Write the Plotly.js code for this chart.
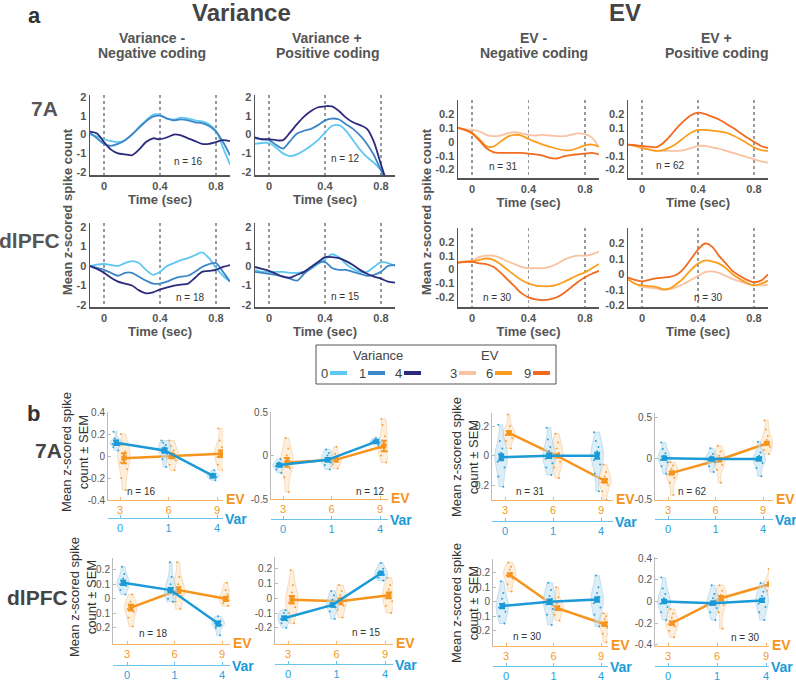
<!DOCTYPE html>
<html>
<head>
<meta charset="utf-8">
<script src="https://cdn.plot.ly/plotly-3.0.1.min.js"></script>
<style>body{margin:0;background:#fff;} #chart{width:796px;height:681px;}</style>
</head>
<body>
<div id="chart"></div>
<script>
// ---------- panel a: mean z-scored spike count over time ----------
var time = [-0.1,-0.05,0,0.05,0.1,0.15,0.2,0.25,0.3,0.35,0.4,0.45,0.5,0.55,0.6,0.65,0.7,0.75,0.8,0.85,0.9];
var timeTicks = [0, 0.4, 0.8];

// 7A, variance negative coding (variance 0 / 1 / 4)
var vNeg7A_0 = [0.0,-0.1,-0.25,-0.35,-0.4,-0.3,0.0,0.4,0.75,1.05,1.05,0.85,0.8,0.9,0.85,0.75,0.7,0.55,0.2,-0.7,-1.6];
var vNeg7A_1 = [0.1,-0.2,-0.5,-0.6,-0.5,-0.3,0.0,0.35,0.7,0.95,1.0,0.85,0.75,0.8,0.75,0.65,0.6,0.45,0.15,-0.4,-1.1];
var vNeg7A_4 = [0.15,0.05,-0.4,-0.8,-1.0,-1.05,-1.1,-0.8,-0.4,-0.2,-0.25,-0.15,0.0,-0.05,-0.2,-0.35,-0.5,-0.5,-0.4,-0.3,-0.35];
// 7A, variance positive coding
var vPos7A_0 = [-0.5,-0.45,-0.45,-0.7,-1.0,-1.15,-1.05,-0.85,-0.6,-0.3,0.1,0.45,0.5,0.2,-0.3,-0.8,-1.2,-1.5,-1.9,-2.4,-2.9];
var vPos7A_1 = [-0.2,-0.25,-0.3,-0.55,-0.75,-0.35,0.05,0.2,0.3,0.5,0.75,0.85,0.8,0.55,0.3,-0.05,-0.5,-1.1,-1.9,-2.6,-3.0];
var vPos7A_4 = [-0.15,-0.25,-0.25,-0.3,-0.3,0.1,0.55,0.95,1.25,1.45,1.5,1.5,1.25,0.9,0.65,0.5,0.3,-0.4,-1.6,-2.7,-3.5];
// 7A, EV negative coding (EV 3 / 6 / 9)
var eNeg7A_3 = [0.1,0.09,0.085,0.075,0.05,0.04,0.045,0.06,0.07,0.06,0.05,0.045,0.05,0.045,0.04,0.04,0.05,0.06,0.055,0.03,-0.04];
var eNeg7A_6 = [0.1,0.085,0.065,0.02,-0.03,-0.035,0.0,0.035,0.05,0.045,0.02,0.0,-0.02,-0.035,-0.05,-0.06,-0.06,-0.045,-0.025,-0.02,-0.035];
var eNeg7A_9 = [0.1,0.085,0.06,0.01,-0.045,-0.075,-0.08,-0.08,-0.08,-0.08,-0.085,-0.09,-0.1,-0.115,-0.12,-0.105,-0.095,-0.09,-0.085,-0.08,-0.09];
// 7A, EV positive coding
var ePos7A_3 = [-0.02,-0.03,-0.04,-0.055,-0.065,-0.065,-0.065,-0.065,-0.06,-0.045,-0.03,-0.03,-0.04,-0.05,-0.065,-0.08,-0.095,-0.11,-0.125,-0.14,-0.15];
var ePos7A_6 = [-0.02,-0.03,-0.045,-0.055,-0.065,-0.06,-0.04,-0.01,0.03,0.065,0.085,0.085,0.08,0.075,0.065,0.045,0.02,-0.01,-0.04,-0.06,-0.065];
var ePos7A_9 = [-0.02,-0.025,-0.03,-0.035,-0.04,-0.01,0.04,0.1,0.15,0.19,0.21,0.2,0.18,0.16,0.13,0.1,0.065,0.03,0.0,-0.03,-0.045];
// dlPFC, variance negative coding
var vNegPFC_0 = [0.0,0.07,0.1,0.05,0.0,0.15,0.25,0.15,-0.2,-0.45,-0.3,0.0,0.15,0.3,0.4,0.55,0.7,0.4,-0.1,-0.5,-0.8];
var vNegPFC_1 = [0.0,-0.1,-0.2,-0.35,-0.5,-0.35,-0.35,-0.55,-0.75,-0.9,-0.9,-0.8,-0.65,-0.55,-0.5,-0.3,-0.05,0.1,0.15,-0.3,-0.8];
var vNegPFC_4 = [0.0,-0.15,-0.35,-0.6,-0.8,-0.9,-1.0,-1.25,-1.4,-1.35,-1.2,-1.1,-1.0,-0.95,-0.9,-0.6,-0.3,-0.25,-0.2,-0.05,0.05];
// dlPFC, variance positive coding
var vPosPFC_0 = [-0.2,-0.3,-0.3,-0.3,-0.3,-0.35,-0.35,-0.3,-0.15,0.1,0.35,0.6,0.45,0.1,-0.15,-0.3,-0.3,-0.05,0.2,0.15,0.0];
var vPosPFC_1 = [-0.3,-0.35,-0.4,-0.45,-0.55,-0.65,-0.75,-0.4,-0.1,0.15,0.2,-0.1,-0.2,-0.2,-0.3,-0.4,-0.5,-0.45,-0.3,0.0,0.05];
var vPosPFC_4 = [-0.05,-0.15,-0.25,-0.4,-0.55,-0.6,-0.45,-0.3,-0.05,0.2,0.45,0.45,0.4,0.25,0.05,-0.2,-0.4,-0.55,-0.65,-0.8,-0.85];
// dlPFC, EV negative coding
var eNegPFC_3 = [0.05,0.06,0.065,0.09,0.1,0.1,0.085,0.06,0.04,0.02,0.01,0.01,0.01,0.02,0.04,0.07,0.09,0.1,0.1,0.11,0.13];
var eNegPFC_6 = [0.05,0.055,0.06,0.07,0.08,0.07,0.04,0.0,-0.04,-0.075,-0.1,-0.115,-0.12,-0.12,-0.11,-0.09,-0.065,-0.04,-0.02,0.01,0.04];
var eNegPFC_9 = [0.05,0.055,0.055,0.045,0.04,0.02,-0.02,-0.07,-0.12,-0.17,-0.2,-0.215,-0.22,-0.215,-0.2,-0.17,-0.13,-0.09,-0.055,-0.03,-0.01];
// dlPFC, EV positive coding
var ePosPFC_3 = [-0.03,-0.06,-0.08,-0.085,-0.09,-0.1,-0.095,-0.08,-0.06,-0.035,-0.01,0.015,0.02,0.01,-0.01,-0.03,-0.045,-0.06,-0.07,-0.07,-0.065];
var ePosPFC_6 = [-0.03,-0.06,-0.07,-0.075,-0.08,-0.095,-0.09,-0.06,-0.02,0.03,0.07,0.09,0.085,0.07,0.04,0.0,-0.03,-0.055,-0.07,-0.06,-0.04];
var ePosPFC_9 = [-0.02,-0.035,-0.045,-0.035,-0.025,-0.02,-0.015,0.0,0.04,0.1,0.16,0.2,0.18,0.12,0.07,0.02,-0.01,-0.035,-0.05,-0.04,0.0];

var nCells = [16, 12, 31, 62, 18, 15, 30, 30];
var varLevels = ['0', '1', '4'];
var evLevels = ['3', '6', '9'];

// ---------- panel b: means, SEM and per-cell values ----------
var b1_varMean = [0.12, 0.05, -0.18],  b1_varSem = [0.02, 0.02, 0.015];
var b1_evMean  = [-0.02, 0.0, 0.02],   b1_evSem  = [0.045, 0.02, 0.03];
var b1_varPts = [[0.05,0.08,0.1,0.11,0.12,0.12,0.13,0.14,0.16,0.22],[-0.1,-0.03,0.02,0.04,0.05,0.06,0.08,0.1,0.12,0.14],[-0.22,-0.2,-0.19,-0.18,-0.18,-0.17,-0.16,-0.13]];
var b1_evPts  = [[-0.31,-0.2,-0.12,-0.06,-0.02,0.0,0.02,0.04,0.1,0.2],[-0.13,-0.08,-0.04,-0.02,0.0,0.01,0.03,0.05,0.09,0.14],[-0.13,-0.08,-0.04,-0.01,0.02,0.03,0.05,0.08,0.14,0.25]];

var b2_varMean = [-0.11, -0.05, 0.16], b2_varSem = [0.015, 0.02, 0.01];
var b2_evMean  = [-0.08, -0.05, 0.11], b2_evSem  = [0.05, 0.02, 0.06];
var b2_varPts = [[-0.2,-0.16,-0.13,-0.12,-0.11,-0.1,-0.08,-0.04],[-0.16,-0.11,-0.08,-0.06,-0.05,-0.03,0.0,0.03,0.07],[0.12,0.14,0.15,0.16,0.17,0.18,0.2]];
var b2_evPts  = [[-0.42,-0.25,-0.15,-0.1,-0.07,-0.04,0.0,0.08,0.2],[-0.15,-0.1,-0.07,-0.05,-0.04,-0.02,0.02,0.1],[-0.08,0.0,0.05,0.08,0.1,0.12,0.16,0.22,0.35,0.42]];

var b3_varMean = [-0.01, 0.0, 0.0],    b3_varSem = [0.02, 0.015, 0.02];
var b3_evMean  = [0.155, 0.0, -0.17],  b3_evSem  = [0.012, 0.012, 0.012];
var b3_varPts = [[-0.21,-0.14,-0.08,-0.04,-0.02,0.0,0.02,0.05,0.1,0.21],[-0.13,-0.08,-0.05,-0.02,0.0,0.01,0.03,0.06,0.11,0.19],[-0.24,-0.12,-0.06,-0.03,0.0,0.01,0.03,0.06,0.1,0.16]];
var b3_evPts  = [[0.05,0.1,0.12,0.14,0.15,0.16,0.17,0.2,0.28],[-0.15,-0.08,-0.04,-0.01,0.0,0.02,0.05,0.09,0.15],[-0.3,-0.24,-0.2,-0.18,-0.17,-0.16,-0.14,-0.11,-0.06]];

var b4_varMean = [0.0, -0.01, -0.01],  b4_varSem = [0.02, 0.015, 0.02];
var b4_evMean  = [-0.18, -0.02, 0.18], b4_evSem  = [0.015, 0.02, 0.015];
var b4_varPts = [[-0.19,-0.1,-0.05,-0.02,0.0,0.01,0.03,0.06,0.11,0.19],[-0.17,-0.1,-0.05,-0.03,-0.01,0.0,0.02,0.05,0.12],[-0.22,-0.12,-0.06,-0.03,-0.01,0.0,0.03,0.07,0.2]];
var b4_evPts  = [[-0.45,-0.3,-0.24,-0.2,-0.18,-0.16,-0.13,-0.09,-0.05],[-0.3,-0.14,-0.08,-0.04,-0.02,0.0,0.03,0.08,0.15],[0.05,0.1,0.14,0.16,0.18,0.2,0.22,0.27,0.35,0.46]];

var b5_varMean = [0.11, 0.06, -0.17],  b5_varSem = [0.015, 0.015, 0.015];
var b5_evMean  = [-0.06, 0.06, 0.0],   b5_evSem  = [0.02, 0.02, 0.015];
var b5_varPts = [[0.03,0.06,0.09,0.1,0.11,0.12,0.14,0.17,0.22],[-0.02,0.0,0.03,0.05,0.06,0.07,0.1,0.15,0.25],[-0.25,-0.2,-0.18,-0.17,-0.16,-0.15,-0.12]];
var b5_evPts  = [[-0.19,-0.13,-0.09,-0.07,-0.06,-0.04,-0.02,0.03],[-0.07,-0.02,0.02,0.04,0.06,0.08,0.1,0.15,0.25],[-0.05,-0.03,-0.01,0.0,0.01,0.03,0.06,0.11]];

var b6_varMean = [-0.135, -0.045, 0.17], b6_varSem = [0.012, 0.012, 0.01];
var b6_evMean  = [-0.01, -0.02, 0.02],   b6_evSem  = [0.025, 0.02, 0.02];
var b6_varPts = [[-0.2,-0.17,-0.15,-0.14,-0.13,-0.12,-0.1,-0.08],[-0.14,-0.09,-0.06,-0.05,-0.04,-0.03,-0.01,0.02,0.05],[0.12,0.14,0.16,0.17,0.18,0.2,0.24]];
var b6_evPts  = [[-0.17,-0.1,-0.06,-0.03,-0.01,0.01,0.04,0.09,0.19],[-0.13,-0.08,-0.05,-0.03,-0.02,0.0,0.02,0.05,0.09],[-0.1,-0.05,-0.02,0.0,0.02,0.04,0.06,0.09,0.14]];

var b7_varMean = [-0.03, 0.0, 0.015],    b7_varSem = [0.015, 0.015, 0.015];
var b7_evMean  = [0.185, -0.045, -0.155], b7_evSem  = [0.01, 0.012, 0.012];
var b7_varPts = [[-0.15,-0.1,-0.07,-0.04,-0.03,-0.01,0.02,0.06,0.14],[-0.16,-0.09,-0.05,-0.02,0.0,0.02,0.04,0.08,0.13],[-0.17,-0.09,-0.04,-0.01,0.01,0.03,0.06,0.1,0.18]];
var b7_evPts  = [[0.07,0.12,0.16,0.18,0.19,0.2,0.22,0.24,0.27],[-0.13,-0.09,-0.06,-0.05,-0.04,-0.03,-0.01,0.03,0.1],[-0.28,-0.22,-0.18,-0.16,-0.15,-0.14,-0.12,-0.1,-0.08]];

var b8_varMean = [0.0, -0.015, 0.01],  b8_varSem = [0.015, 0.015, 0.015];
var b8_evMean  = [-0.2, 0.03, 0.16],   b8_evSem  = [0.015, 0.02, 0.015];
var b8_varPts = [[-0.17,-0.1,-0.05,-0.02,0.0,0.01,0.03,0.07,0.12,0.22],[-0.17,-0.1,-0.06,-0.03,-0.01,0.0,0.03,0.07,0.15],[-0.17,-0.1,-0.05,-0.02,0.01,0.03,0.05,0.09,0.17]];
var b8_evPts  = [[-0.33,-0.27,-0.23,-0.21,-0.2,-0.18,-0.15,-0.11,-0.07],[-0.25,-0.1,-0.03,0.0,0.02,0.04,0.06,0.1,0.15],[0.05,0.1,0.13,0.15,0.16,0.17,0.19,0.22,0.3]];

// ---------- styling ----------
var FONT = 'Liberation Sans, Arial, sans-serif';
var W = 796, H = 681;
var varColors = ['#5ec8f2', '#3f86c8', '#2c2a7c'];
var evColors = ['#f9c2a3', '#fb9d1e', '#f26b1f'];
var BLUE = '#1a9ad6', ORANGE = '#f7941d';

function px(x) { return x / W; }
function py(y) { return 1 - y / H; }
function sfx(k) { return k === 1 ? '' : String(k); }
function note(text, x, y, size, color, extra) {
  var a = {text: text, x: px(x), y: py(y), xref: 'paper', yref: 'paper', showarrow: false,
           xanchor: 'center', yanchor: 'middle', font: {family: FONT, size: size, color: color}};
  for (var key in extra) a[key] = extra[key];
  return a;
}

var traces = [], annotations = [], shapes = [];
var layout = {
  width: W, height: H, margin: {l: 0, r: 0, t: 0, b: 0},
  paper_bgcolor: '#fff', plot_bgcolor: 'rgba(0,0,0,0)',
  showlegend: false, violinmode: 'overlay',
  font: {family: FONT}
};

// panel a subplots: box = [left, top, right, bottom] in px
var aPanels = [
  {series: [vNeg7A_0, vNeg7A_1, vNeg7A_4], colors: varColors, box: [90, 95, 230, 175], yr: [-2.15, 2.1], yt: [-2,-1,0,1,2], nAt: [188, 162]},
  {series: [vPos7A_0, vPos7A_1, vPos7A_4], colors: varColors, box: [255, 95, 395, 175], yr: [-2.15, 2.1], yt: [-2,-1,0,1,2], nAt: [345, 158]},
  {series: [eNeg7A_3, eNeg7A_6, eNeg7A_9], colors: evColors, box: [458, 100, 599, 178], yr: [-0.26, 0.3], yt: [-0.2,-0.1,0,0.1,0.2], nAt: [503, 166]},
  {series: [ePos7A_3, ePos7A_6, ePos7A_9], colors: evColors, box: [628, 100, 768, 178], yr: [-0.26, 0.3], yt: [-0.2,-0.1,0,0.1,0.2], nAt: [670, 165]},
  {series: [vNegPFC_0, vNegPFC_1, vNegPFC_4], colors: varColors, box: [90, 223, 230, 307], yr: [-2.1, 2.2], yt: [-2,-1,0,1,2], nAt: [190, 297]},
  {series: [vPosPFC_0, vPosPFC_1, vPosPFC_4], colors: varColors, box: [255, 223, 395, 307], yr: [-2.1, 2.2], yt: [-2,-1,0,1,2], nAt: [345, 296]},
  {series: [eNegPFC_3, eNegPFC_6, eNegPFC_9], colors: evColors, box: [458, 228, 599, 307], yr: [-0.27, 0.3], yt: [-0.2,-0.1,0,0.1,0.2], nAt: [497, 297]},
  {series: [ePosPFC_3, ePosPFC_6, ePosPFC_9], colors: evColors, box: [628, 228, 768, 307], yr: [-0.21, 0.3], yt: [-0.2,-0.1,0,0.1,0.2], nAt: [708, 297]}
];

aPanels.forEach(function (p, i) {
  var k = i + 1, xa = 'x' + sfx(k), ya = 'y' + sfx(k);
  p.series.forEach(function (s, j) {
    traces.push({type: 'scatter', mode: 'lines', x: time, y: s, xaxis: xa, yaxis: ya,
                 line: {color: p.colors[j], width: 1.8, shape: 'spline', smoothing: 0.8}, hoverinfo: 'skip'});
  });
  layout['xaxis' + sfx(k)] = {
    domain: [px(p.box[0]), px(p.box[2])], anchor: ya, range: [-0.1, 0.9],
    tickvals: timeTicks, ticktext: timeTicks.map(String),
    showgrid: true, gridcolor: '#999', griddash: 'dot', gridwidth: 1.6, zeroline: false,
    showline: true, linecolor: '#555', linewidth: 1.5, ticks: '',
    tickfont: {size: 11, color: '#555', weight: 'bold'},
    title: {text: 'Time (sec)', font: {size: 13, color: '#555', weight: 'bold'}, standoff: 3}
  };
  layout['yaxis' + sfx(k)] = {
    domain: [py(p.box[3]), py(p.box[1])], anchor: xa, range: p.yr,
    tickvals: p.yt, ticktext: p.yt.map(String),
    showgrid: false, zeroline: false, showline: true, linecolor: '#555', linewidth: 1.5, ticks: '',
    tickfont: {size: 11, color: '#555', weight: 'bold'}
  };
  annotations.push(note('n = ' + nCells[i], p.nAt[0], p.nAt[1], 10, '#333'));
});

// panel b subplots
var bPanels = [
  {vm: b1_varMean, vs: b1_varSem, em: b1_evMean, es: b1_evSem, vp: b1_varPts, ep: b1_evPts, box: [108, 412, 223, 500], tk: [120, 217], varY: 518, yr: [-0.4, 0.4], yt: [-0.4,-0.2,0,0.2,0.4], nAt: [141, 491]},
  {vm: b2_varMean, vs: b2_varSem, em: b2_evMean, es: b2_evSem, vp: b2_varPts, ep: b2_evPts, box: [271, 412, 388, 499], tk: [283, 380], varY: 519, yr: [-0.5, 0.5], yt: [-0.5,0,0.5], nAt: [370, 491]},
  {vm: b3_varMean, vs: b3_varSem, em: b3_evMean, es: b3_evSem, vp: b3_varPts, ep: b3_evPts, box: [492, 413, 613, 500], tk: [505, 601], varY: 521, yr: [-0.3, 0.29], yt: [-0.2,0,0.2], nAt: [530, 491]},
  {vm: b4_varMean, vs: b4_varSem, em: b4_evMean, es: b4_evSem, vp: b4_varPts, ep: b4_evPts, box: [655, 413, 773, 500], tk: [668, 763], varY: 519, yr: [-0.51, 0.55], yt: [-0.5,0,0.5], nAt: [692, 491]},
  {vm: b5_varMean, vs: b5_varSem, em: b5_evMean, es: b5_evSem, vp: b5_varPts, ep: b5_evPts, box: [113, 558, 230, 644], tk: [127, 222], varY: 665, yr: [-0.31, 0.28], yt: [-0.2,-0.1,0,0.1,0.2], nAt: [153, 633]},
  {vm: b6_varMean, vs: b6_varSem, em: b6_evMean, es: b6_evSem, vp: b6_varPts, ep: b6_evPts, box: [275, 557, 393, 644], tk: [288, 385], varY: 664, yr: [-0.31, 0.28], yt: [-0.2,-0.1,0,0.1,0.2], nAt: [366, 632]},
  {vm: b7_varMean, vs: b7_varSem, em: b7_evMean, es: b7_evSem, vp: b7_varPts, ep: b7_evPts, box: [493, 559, 608, 646], tk: [506, 601], varY: 666, yr: [-0.305, 0.294], yt: [-0.2,-0.1,0,0.1,0.2], nAt: [527, 636]},
  {vm: b8_varMean, vs: b8_varSem, em: b8_evMean, es: b8_evSem, vp: b8_varPts, ep: b8_evPts, box: [655, 557, 769, 646], tk: [668, 766], varY: 666, yr: [-0.41, 0.41], yt: [-0.4,-0.2,0,0.2,0.4], nAt: [745, 637]}
];

var OFF = 0.08;
function violin(vals, pos, xa, ya, blue) {
  return {type: 'violin', y: vals, x0: pos, xaxis: xa, yaxis: ya, width: 0.26, name: '',
          points: 'all', pointpos: 0, jitter: 0.7, spanmode: 'hard',
          marker: {size: 2, color: blue ? '#2aa2dd' : '#f5a03a'},
          fillcolor: blue ? 'rgba(190,222,240,0.5)' : 'rgba(253,226,192,0.55)',
          line: {color: blue ? 'rgba(150,195,225,0.8)' : 'rgba(238,198,150,0.9)', width: 0.6},
          box: {visible: false}, meanline: {visible: false}, hoverinfo: 'skip'};
}
function meanLine(m, s, shift, xa, ya, color) {
  return {type: 'scatter', mode: 'lines+markers', x: [1, 2, 3].map(function (v) { return v + shift; }), y: m,
          xaxis: xa, yaxis: ya, line: {color: color, width: 2.5},
          marker: {symbol: 'square', size: 5, color: color},
          error_y: {type: 'data', array: s, color: color, thickness: 2, width: 3}, hoverinfo: 'skip'};
}

bPanels.forEach(function (p, i) {
  var k = i + 9, kv = i + 17;
  var xe = 'x' + k, xv = 'x' + kv, ya = 'y' + k;
  var unit = (p.tk[1] - p.tk[0]) / 2;
  var xr = [1 - (p.tk[0] - p.box[0]) / unit, 3 + (p.box[2] - p.tk[1]) / unit];
  [0, 1, 2].forEach(function (c) {
    traces.push(violin(p.vp[c], c + 1 - OFF, xv, ya, true));
    traces.push(violin(p.ep[c], c + 1 + OFF, xe, ya, false));
  });
  traces.push(meanLine(p.vm, p.vs, -OFF, xv, ya, BLUE));
  traces.push(meanLine(p.em, p.es, OFF, xe, ya, ORANGE));

  layout['xaxis' + k] = {
    domain: [px(p.box[0]), px(p.box[2])], anchor: ya, range: xr,
    tickvals: [1, 2, 3], ticktext: evLevels, showgrid: false, zeroline: false,
    showline: true, linecolor: '#f9b561', linewidth: 1.2, ticks: 'inside', ticklen: 3, tickcolor: '#f9b561',
    tickfont: {size: 11, color: '#f39a2a'}
  };
  layout['xaxis' + kv] = {
    overlaying: xe, anchor: 'free', position: py(p.varY), side: 'bottom', range: xr,
    tickvals: [1, 2, 3], ticktext: varLevels, showgrid: false, zeroline: false,
    showline: true, linecolor: '#6cc4ec', linewidth: 1.2, ticks: 'inside', ticklen: 3, tickcolor: '#6cc4ec',
    tickfont: {size: 11, color: '#2aa2dd'}
  };
  layout['yaxis' + k] = {
    domain: [py(p.box[3]), py(p.box[1])], anchor: xe, range: p.yr,
    tickvals: p.yt, ticktext: p.yt.map(String), showgrid: false, zeroline: false,
    showline: true, linecolor: '#bbb', linewidth: 1, ticks: 'inside', ticklen: 3, tickcolor: '#bbb',
    tickfont: {size: 10, color: '#555'}
  };
  annotations.push(note('n = ' + nCells[i], p.nAt[0], p.nAt[1], 10, '#333'));
  annotations.push(note('<b>EV</b>', p.box[2] + 1, p.box[3] - 1, 14, ORANGE, {xanchor: 'left'}));
  annotations.push(note('<b>Var</b>', p.box[2], p.varY + 1, 14, BLUE, {xanchor: 'left'}));
});

// titles and labels
annotations.push(note('<b>a</b>', 34, 16, 22, '#333'));
annotations.push(note('<b>Variance</b>', 241, 12, 24, '#444'));
annotations.push(note('<b>EV</b>', 625, 12, 24, '#444'));
var heads = [['Variance -', 'Negative coding', 152], ['Variance +', 'Positive coding', 327],
             ['EV -', 'Negative coding', 534], ['EV +', 'Positive coding', 716]];
heads.forEach(function (h) {
  annotations.push(note('<b>' + h[0] + '</b>', h[2], 38, 14, '#555'));
  annotations.push(note('<b>' + h[1] + '</b>', h[2], 53, 14, '#555'));
});
annotations.push(note('<b>7A</b>', 44, 108, 21, '#555'));
annotations.push(note('<b>dlPFC</b>', 29, 240, 21, '#555'));
annotations.push(note('<b>Mean z-scored spike count</b>', 68, 212, 13, '#555', {textangle: -90}));
annotations.push(note('<b>Mean z-scored spike count</b>', 427, 212, 13, '#555', {textangle: -90}));
annotations.push(note('<b>b</b>', 33, 413, 22, '#333'));
annotations.push(note('<b>7A</b>', 48, 450, 21, '#444'));
annotations.push(note('<b>dlPFC</b>', 37, 597, 21, '#444'));
var bYTitle = 'Mean z-scored spike<br>count \u00b1 SEM';
annotations.push(note(bYTitle, 75, 452, 13, '#333', {textangle: -90}));
annotations.push(note(bYTitle, 465, 457, 13, '#333', {textangle: -90}));
annotations.push(note(bYTitle, 83, 597, 13, '#333', {textangle: -90}));
annotations.push(note(bYTitle, 465, 603, 13, '#333', {textangle: -90}));

// colour key between the panels
shapes.push({type: 'rect', xref: 'paper', yref: 'paper', x0: px(316), x1: px(556), y0: py(384), y1: py(345),
             line: {color: '#555', width: 1}, fillcolor: 'rgba(0,0,0,0)'});
annotations.push(note('Variance', 378, 355, 13, '#444'));
annotations.push(note('EV', 490, 355, 13, '#444'));
var keyLabels = varLevels.concat(evLevels);
var keyColors = varColors.concat(evColors);
var keyX = [324, 362, 398, 453, 489, 527];
keyLabels.forEach(function (lab, i) {
  annotations.push(note(lab, keyX[i], 373, 13, '#444'));
  shapes.push({type: 'line', xref: 'paper', yref: 'paper', x0: px(keyX[i] + 6), x1: px(keyX[i] + 23),
               y0: py(373), y1: py(373), line: {color: keyColors[i], width: 4}});
});

layout.annotations = annotations;
layout.shapes = shapes;

Plotly.newPlot('chart', traces, layout, {staticPlot: true, displayModeBar: false});
</script>
</body>
</html>
